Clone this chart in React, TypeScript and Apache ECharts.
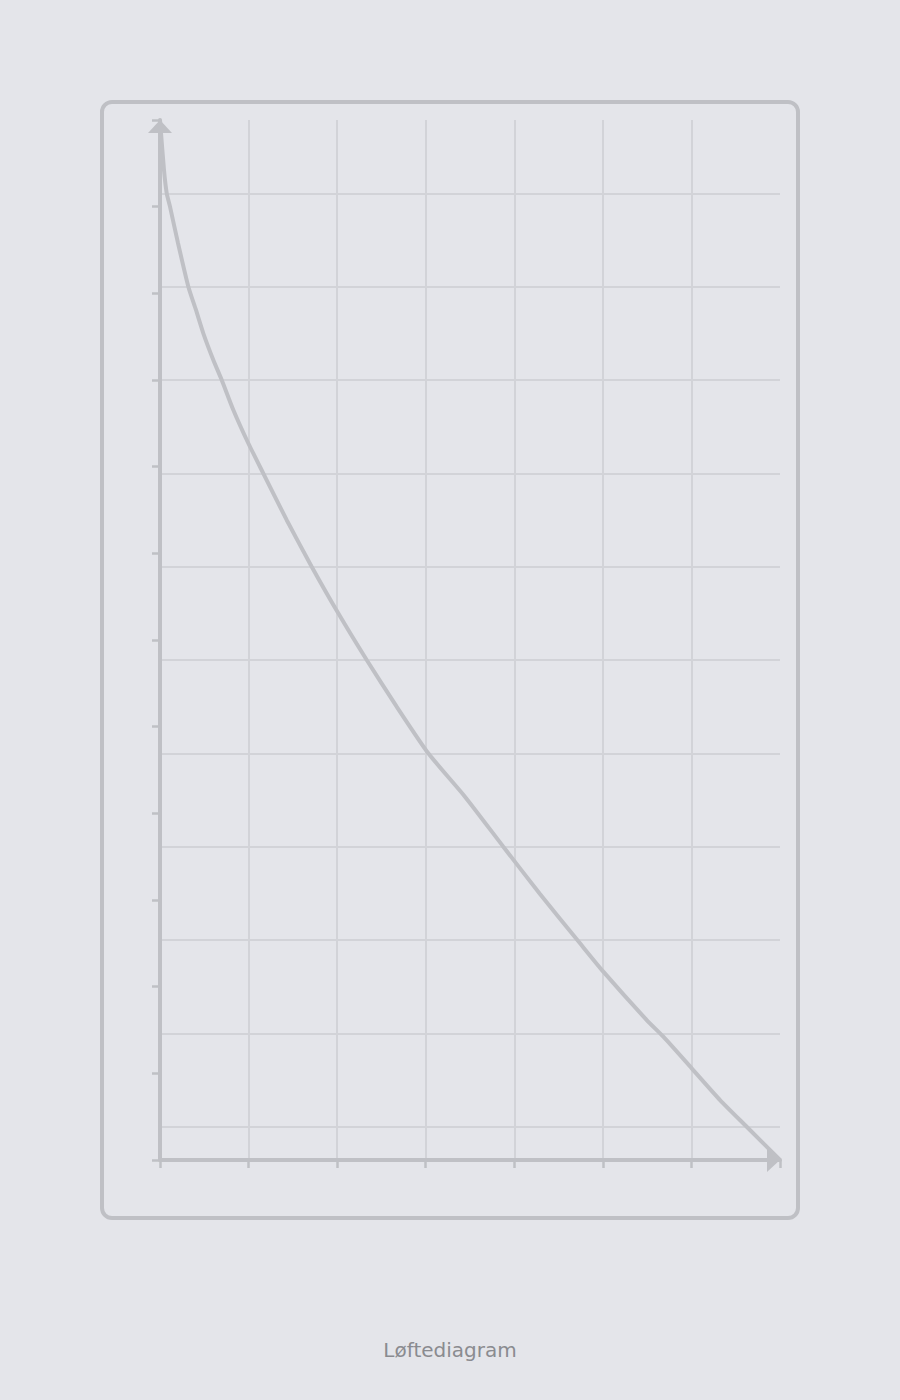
import React, { useEffect, useRef } from 'react';
import * as echarts from 'echarts';

// lift curve: radius (x units) against load (y units)
const radius = [
  0, 0.045, 0.076, 0.113, 0.203, 0.32, 0.406, 0.489, 0.602, 0.697, 0.828,
  0.997, 1.166, 1.43, 1.713, 2.013, 2.334, 2.672, 3.029, 3.443, 3.876,
  4.29, 4.742, 5.005, 5.495, 5.683, 6.003, 6.323, 6.624, 7.0,
];
const load = [
  12, 11.423, 11.154, 11.0, 10.581, 10.077, 9.808, 9.539, 9.231, 9.0, 8.654,
  8.27, 7.923, 7.385, 6.846, 6.308, 5.769, 5.231, 4.693, 4.192, 3.615,
  3.069, 2.5, 2.173, 1.615, 1.423, 1.058, 0.692, 0.384, 0,
];

const xMax = 7;
const yMax = 12;
// horizontal grid is offset from the load ticks
const gridMin = -0.357;
const gridMax = 10.786;

const title = 'Løftediagram';

const BG = '#e4e5ea';
const AXIS = '#bfc0c5';
const GRID = '#d2d3d8';
const TEXT = '#8a8b90';

export default function App() {
  const chartRef = useRef<HTMLDivElement>(null);

  useEffect(() => {
    document.body.style.margin = '0';
    document.body.style.background = BG;
    if (!chartRef.current) return;
    const chart = echarts.init(chartRef.current, undefined, { renderer: 'svg' });

    const axisLine = {
      show: true,
      symbol: ['none', 'triangle'],
      symbolSize: [24, 13],
      symbolOffset: [0, -6.5],
      lineStyle: { color: AXIS, width: 4 },
    };
    const axisTick = { show: true, length: 8, lineStyle: { color: AXIS, width: 2.5 } };

    chart.setOption({
      animation: false,
      backgroundColor: BG,
      title: {
        text: title,
        left: 'center',
        top: 1335,
        textStyle: { fontFamily: 'DejaVu Sans', fontSize: 20, fontWeight: 'normal', color: TEXT },
      },
      grid: { left: 160, right: 120, top: 120, bottom: 240 },
      xAxis: {
        type: 'value',
        min: 0,
        max: xMax,
        interval: 1,
        axisLine,
        axisTick,
        axisLabel: { show: false },
        splitLine: { show: true, showMinLine: false, showMaxLine: false, lineStyle: { color: GRID, width: 2 } },
      },
      yAxis: [
        {
          type: 'value',
          min: 0,
          max: yMax,
          interval: 1,
          axisLine,
          axisTick,
          axisLabel: { show: false },
          splitLine: { show: false },
          z: 3,
        },
        {
          type: 'value',
          min: gridMin,
          max: gridMax,
          minInterval: 1,
          maxInterval: 1,
          position: 'left',
          axisLine: { show: false },
          axisTick: { show: false },
          axisLabel: { show: false },
          splitLine: { show: true, showMinLine: false, showMaxLine: false, lineStyle: { color: GRID, width: 2 } },
        },
      ],
      graphic: [
        {
          type: 'rect',
          shape: { x: 102, y: 102, width: 696, height: 1116, r: 10 },
          style: { fill: 'none', stroke: AXIS, lineWidth: 4 },
          silent: true,
        },
      ],
      series: [
        {
          type: 'line',
          yAxisIndex: 0,
          data: radius.map((r, i) => [r, load[i]]),
          symbol: 'none',
          smooth: 0.2,
          lineStyle: { color: AXIS, width: 4 },
          z: 4,
        },
      ],
    });

    return () => {
      chart.dispose();
    };
  }, []);

  return <div ref={chartRef} style={{ width: 900, height: 1400 }} />;
}
